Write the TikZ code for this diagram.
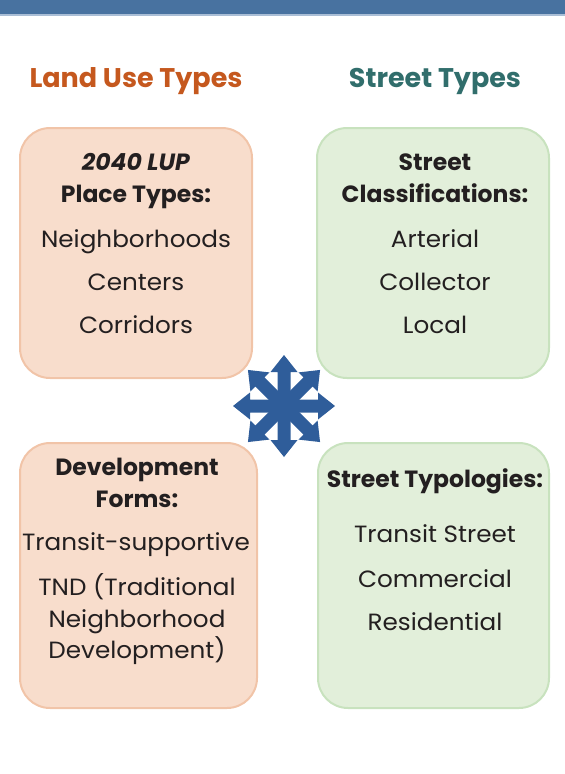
\documentclass[tikz,border=0pt]{standalone}
\usepackage{fontspec}
\setmainfont{Poppins}
\newfontfamily\itemfont{Poppins}[FakeStretch=1.05]
\definecolor{barblue}{RGB}{72,114,160}
\definecolor{barline}{RGB}{170,190,214}
\definecolor{landhead}{RGB}{197,88,30}
\definecolor{streethead}{RGB}{49,110,108}
\definecolor{landfill}{RGB}{248,221,204}
\definecolor{landline}{RGB}{241,196,168}
\definecolor{streetfill}{RGB}{226,239,218}
\definecolor{streetline}{RGB}{200,226,190}
\definecolor{starblue}{RGB}{47,93,154}
\definecolor{inktext}{RGB}{35,31,32}
\tikzset{
  headtext/.style={anchor=base, font=\fontsize{27}{30}\selectfont\bfseries},
  itemtext/.style={anchor=base, text=inktext, inner sep=0pt, font=\itemfont\fontsize{23.5}{26}\selectfont},
  titletext/.style={itemtext, font=\fontsize{23.5}{26}\selectfont\bfseries},
  landbox/.style={draw=landline, fill=landfill, line width=2pt, rounded corners=30pt, minimum width=#1, inner sep=0pt},
  streetbox/.style={draw=streetline, fill=streetfill, line width=2pt, rounded corners=30pt, minimum width=#1, inner sep=0pt}
}
\begin{document}
\begin{tikzpicture}[x=1pt,y=-1pt]
  \useasboundingbox (0,0) rectangle (565,774);

  % top bar
  \fill[barblue] (0,0) rectangle (565,14);
  \fill[barline] (0,14) rectangle (565,16);

  % headings
  \node[headtext, text=landhead] (landhd) at (136,87) {Land Use Types};
  \node[headtext, text=streethead] (streethd) at (435,87) {Street Types};

  % boxes
  \node[landbox=232pt, minimum height=250pt] (placebox) at (136,253) {};
  \node[streetbox=232pt, minimum height=250pt] (classbox) at (433,253) {};
  \node[landbox=237pt, minimum height=265pt] (formbox) at (138.5,575.5) {};
  \node[streetbox=231pt, minimum height=265pt] (typobox) at (433.5,575.5) {};

  % place types
  \node[titletext] (place1) at (136,170) {\textit{2040 LUP}};
  \node[titletext] (place2) at (136,202) {Place Types:};
  \node[itemtext] (place3) at (136,247) {Neighborhoods};
  \node[itemtext] (place4) at (136,290) {Centers};
  \node[itemtext] (place5) at (136,333) {Corridors};

  % street classifications
  \node[titletext] (class1) at (435,170) {Street};
  \node[titletext] (class2) at (435,202) {Classifications:};
  \node[itemtext] (class3) at (435,247) {Arterial};
  \node[itemtext] (class4) at (435,290) {Collector};
  \node[itemtext] (class5) at (435,333) {Local};

  % development forms
  \node[titletext] (form1) at (137,475) {Development};
  \node[titletext] (form2) at (137,507) {Forms:};
  \node[itemtext] (form3) at (136,550) {Transit-supportive};
  \node[itemtext] (form4) at (137,595) {TND (Traditional};
  \node[itemtext] (form5) at (137,627) {Neighborhood};
  \node[itemtext] (form6) at (137,658) {Development)};

  % street typologies
  \node[titletext] (typo1) at (435,487) {Street Typologies:};
  \node[itemtext] (typo2) at (435,542) {Transit Street};
  \node[itemtext] (typo3) at (435,587) {Commercial};
  \node[itemtext] (typo4) at (435,630) {Residential};

  % star of arrows
  \coordinate (star) at (284,406);
  \foreach \a in {0,45,...,315}
    \fill[starblue, shift={(star)}, rotate=\a]
      (0,-6.5) -- (34,-6.5) -- (34,-13.5) -- (51,0) -- (34,13.5) -- (34,6.5) -- (0,6.5) -- cycle;

\end{tikzpicture}
\end{document}
